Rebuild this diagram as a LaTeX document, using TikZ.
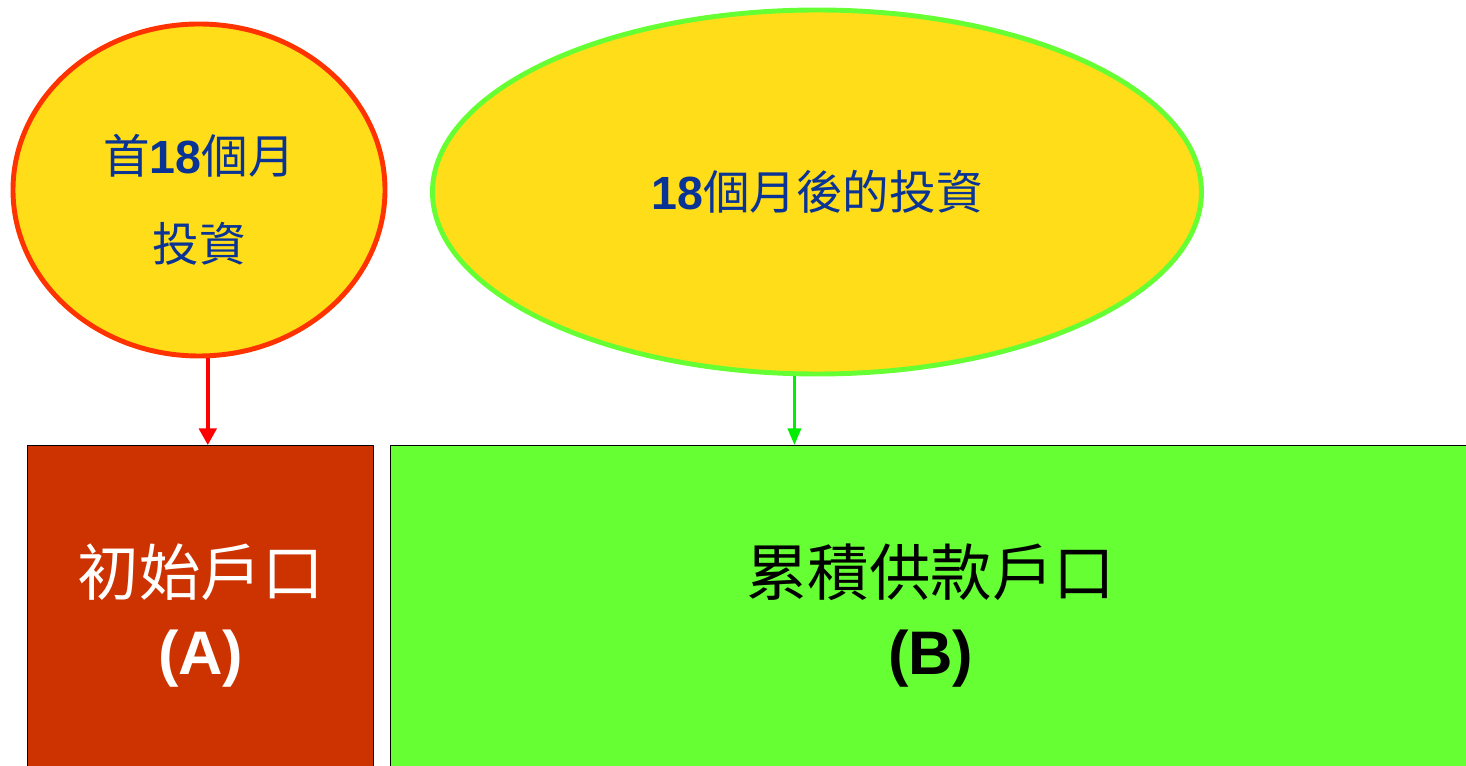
\documentclass[tikz,border=0pt]{standalone}
\usepackage{fontspec}
\setmainfont{Liberation Sans}
\newfontfamily\cjk{Noto Sans CJK TC}
\usetikzlibrary{arrows.meta,shapes.geometric}
\definecolor{ovalfill}{HTML}{FFDD18}
\definecolor{ovaltext}{HTML}{0A3396}
\definecolor{rimred}{HTML}{FF3300}
\definecolor{rimgreen}{HTML}{66FF33}
\definecolor{boxred}{HTML}{CC3300}
\definecolor{boxgreen}{HTML}{66FF33}
\definecolor{arrgreen}{HTML}{00EE00}
\tikzset{
	oval/.style={ellipse, fill=ovalfill, line width=2.8pt, text=ovaltext, align=center, font=\fontsize{26.5}{50}\selectfont},
	acct/.style={draw=black, line width=0.85pt, anchor=north west, align=center, inner sep=0pt, font=\fontsize{35}{45}\selectfont}
}
\begin{document}
\begin{tikzpicture}[x=0.02cm, y=-0.02cm, line join=round, >=stealth]
		\clip (0,0) rectangle (1466,766);
		\node[oval, draw=rimred, minimum width={372*0.02cm}, minimum height={332*0.02cm}] (circA) at (199,190) {\rule{0pt}{33pt}{\cjk 首}\textbf{18}{\cjk 個月}\\{\cjk 投資}};
		\node[oval, draw=rimgreen, minimum width={769*0.02cm}, minimum height={364*0.02cm}] (ovalB) at (817,192) {\textbf{18}{\cjk 個月後的投資}};
		\node[acct, fill=boxred, text=white, minimum width={346*0.02cm}, minimum height={340*0.02cm}] (boxA) at (27,445) {{\cjk 初始戶口}\\\textbf{(A)}};
		\node[acct, fill=boxgreen, text=black, minimum width={1080*0.02cm}, minimum height={340*0.02cm}] (boxB) at (390,445) {{\cjk 累積供款戶口}\\\textbf{(B)}};
		\draw[-{Triangle[width=10pt,length=9.5pt]}, red, line width=2pt] (circA.273) -- (circA.273 |- boxA.north);
		\draw[-{Triangle[width=7.5pt,length=9.5pt]}, arrgreen, line width=1.8pt] (ovalB.263) -- (ovalB.263 |- boxB.north);
\end{tikzpicture}
\end{document}
